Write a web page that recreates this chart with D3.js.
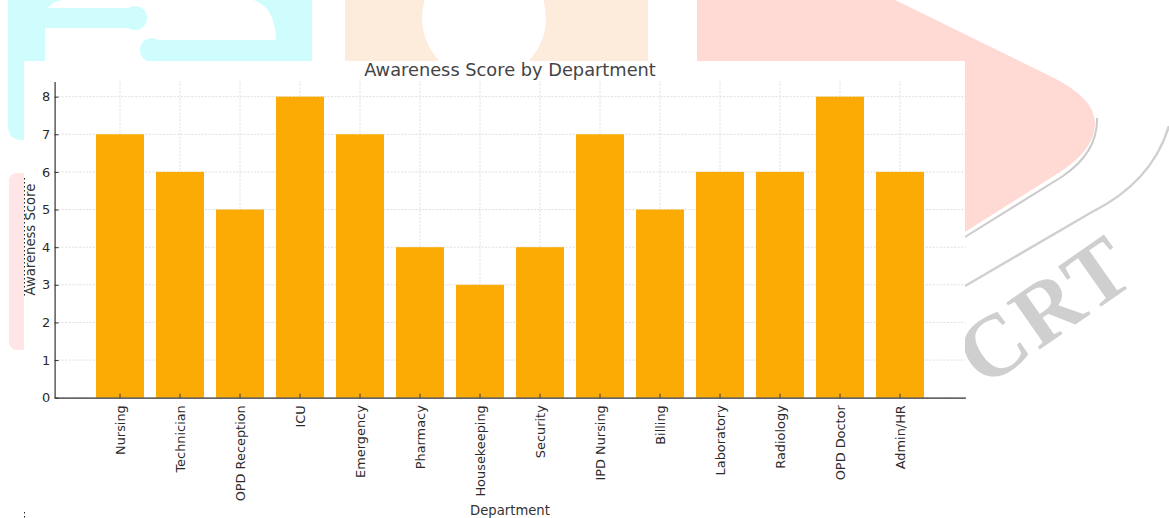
<!DOCTYPE html>
<html>
<head>
<meta charset="utf-8">
<script src="https://cdn.jsdelivr.net/npm/d3@7"></script>
<style>
  body { margin: 0; background: #fff; }
  svg { display: block; font-family: "DejaVu Sans", sans-serif; }
</style>
</head>
<body>
<div id="chart"></div>
<script>
// values
const departments = ["Nursing", "Technician", "OPD Reception", "ICU", "Emergency", "Pharmacy",
    "Housekeeping", "Security", "IPD Nursing", "Billing", "Laboratory", "Radiology", "OPD Doctor", "Admin/HR"];
const scores = [7, 6, 5, 8, 7, 4, 3, 4, 7, 5, 6, 6, 8, 6];
const yTicks = [0, 1, 2, 3, 4, 5, 6, 7, 8];

const width = 1169, height = 518;
const barColor = "#fbab03";
const gridColor = "#d6d6d6";

const svg = d3.select("#chart").append("svg")
    .attr("width", width).attr("height", height);

// page watermark behind the figure
function drawWatermark() {
    const wm = svg.append("g");
    // cyan part
    wm.append("path").attr("fill", "#cffdfd")
        .attr("d", "M8,0 H312 V61 H24 V140 H22 Q8,140 8,126 Z");
    wm.append("path").attr("fill", "#fff")
        .attr("d", "M45,61 V22 Q45,0 66,0 H253 Q275,6 276,40 V61 Z");
    wm.append("rect").attr("fill", "#cffdfd").attr("x", 8).attr("y", 8).attr("width", 130).attr("height", 20);
    wm.append("circle").attr("fill", "#cffdfd").attr("cx", 135).attr("cy", 18).attr("r", 12);
    wm.append("rect").attr("fill", "#cffdfd").attr("x", 150).attr("y", 40).attr("width", 162).attr("height", 21);
    wm.append("circle").attr("fill", "#cffdfd").attr("cx", 152).attr("cy", 50).attr("r", 12);

    // peach block with the round hole
    wm.append("rect").attr("fill", "#fdebdc").attr("x", 345).attr("y", 0).attr("width", 303).attr("height", 61);
    wm.append("circle").attr("fill", "#fff").attr("cx", 484).attr("cy", 18).attr("r", 62);

    // pink arrow head
    wm.append("path").attr("fill", "#ffd9d4")
        .attr("d", "M697,0 H895 L1050,76 Q1096,98 1095,125 Q1094,150 1060,172 L965,232 H697 Z");
    wm.append("path").attr("fill", "none").attr("stroke", "#cbcbcb").attr("stroke-width", 2)
        .attr("d", "M1097,118 Q1098,152 1063,176 L965,237");
    wm.append("path").attr("fill", "none").attr("stroke", "#d0d0d0").attr("stroke-width", 2.5)
        .attr("d", "M1169,126 Q1152,182 1092,212 L965,286");
    wm.append("text")
        .attr("transform", "translate(1062,334) rotate(-35)")
        .attr("text-anchor", "middle")
        .attr("font-family", "Liberation Serif")
        .attr("font-weight", "bold")
        .attr("font-size", 88)
        .attr("letter-spacing", 3)
        .attr("fill", "#cfcfcf")
        .text("CRT");

    wm.append("rect").attr("fill", "#ffe5e5").attr("x", 9).attr("y", 173).attr("width", 20).attr("height", 177).attr("rx", 8);
}

drawWatermark();

// white figure panel
svg.append("rect").attr("x", 24).attr("y", 61).attr("width", 941).attr("height", height - 61).attr("fill", "#fff");
svg.append("line").attr("x1", 24.5).attr("x2", 24.5).attr("y1", 178).attr("y2", 298)
    .attr("stroke", "#222").attr("stroke-dasharray", "1.5,2.5");
svg.append("line").attr("x1", 24.5).attr("x2", 24.5).attr("y1", 512).attr("y2", 518)
    .attr("stroke", "#222").attr("stroke-dasharray", "1.5,2.5");

const x = d3.scaleBand().domain(departments).range([54.6, 965.4]).paddingInner(0.2).paddingOuter(0.69);
const y = d3.scaleLinear().domain([0, 8.4]).range([397.7, 81.6]);
const xc = d => x(d) + x.bandwidth() / 2;

// grid under the bars
const grid = svg.append("g").attr("stroke", gridColor).attr("stroke-width", 0.8).attr("stroke-dasharray", "2,1.5");
grid.selectAll(".hg").data(yTicks).join("line")
    .attr("x1", 54.6).attr("x2", 965.4)
    .attr("y1", d => y(d)).attr("y2", d => y(d));
grid.selectAll(".vg").data(departments).join("line")
    .attr("x1", xc).attr("x2", xc)
    .attr("y1", y(0)).attr("y2", y(8.4));

svg.append("g").selectAll("rect").data(departments).join("rect")
    .attr("x", d => x(d))
    .attr("width", x.bandwidth())
    .attr("y", (d, i) => y(scores[i]))
    .attr("height", (d, i) => y(0) - y(scores[i]))
    .attr("fill", barColor);

// axes, ticks point inward
const yAxis = svg.append("g").attr("transform", "translate(54.6,0)")
    .call(d3.axisLeft(y).tickValues(yTicks).tickSizeInner(-4).tickSizeOuter(0).tickPadding(4.5));
const xAxis = svg.append("g").attr("transform", `translate(0,${y(0)})`)
    .call(d3.axisBottom(x).tickSizeInner(-4).tickSizeOuter(0));

[yAxis, xAxis].forEach(ax => {
    ax.attr("font-family", "DejaVu Sans").attr("font-size", 12.9);
    ax.select(".domain").attr("stroke", "#333").attr("stroke-width", 1.2);
    ax.selectAll(".tick line").attr("stroke", "#333");
    ax.selectAll(".tick text").attr("fill", "#2a2a2a");
});

xAxis.selectAll(".tick text")
    .attr("transform", "rotate(-90)")
    .attr("text-anchor", "end")
    .attr("x", -7.5)
    .attr("y", 0)
    .attr("dy", "0.35em");

svg.append("text")
    .attr("x", 510).attr("y", 76)
    .attr("text-anchor", "middle")
    .attr("font-size", 17.8)
    .attr("fill", "#444")
    .text("Awareness Score by Department");

svg.append("text")
    .attr("transform", "translate(35,239.6) rotate(-90)")
    .attr("text-anchor", "middle")
    .attr("font-size", 13.2)
    .attr("fill", "#333")
    .text("Awareness Score");

svg.append("text")
    .attr("x", 510).attr("y", 514.5)
    .attr("text-anchor", "middle")
    .attr("font-size", 13.2)
    .attr("fill", "#333")
    .text("Department");
</script>
</body>
</html>
